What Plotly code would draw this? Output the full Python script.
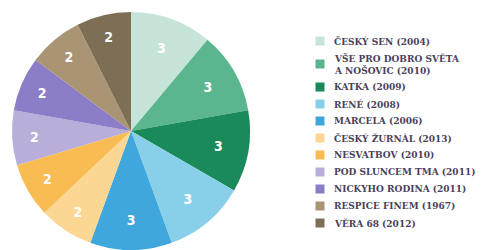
import plotly.graph_objects as go

categories = ["ČESKÝ SEN (2004)", "VŠE PRO DOBRO SVĚTA<br>A NOŠOVIC (2010)", "KATKA (2009)",
              "RENÉ (2008)", "MARCELA (2006)", "ČESKÝ ŽURNÁL (2013)", "NESVATBOV (2010)",
              "POD SLUNCEM TMA (2011)", "NICKYHO RODINA (2011)", "RESPICE FINEM (1967)",
              "VĚRA 68 (2012)"]
values = [3, 3, 3, 3, 3, 2, 2, 2, 2, 2, 2]
colors = ["#c6e4d7", "#5cb68d", "#1b8a5b", "#88cfe9", "#3fa7dc", "#fcd793",
          "#f9bc52", "#b8aed9", "#8b7dc7", "#a99474", "#7d6f56"]

W, H = 482, 250

fig = go.Figure()
fig.add_trace(go.Pie(
    labels=[c.replace("<br>", " ") for c in categories], values=values,
    marker=dict(colors=colors, line=dict(width=0)),
    sort=False, direction="clockwise", rotation=0,
    textinfo="value", textposition="inside", insidetextorientation="horizontal",
    textfont=dict(family="DejaVu Sans Condensed", size=14, color="white", weight="bold"),
    domain=dict(x=[12 / W, 250 / W], y=[0, 238 / H]),
    showlegend=False, hoverinfo="label+value",
))

# manual legend layout (pixel coordinates)
y0, pitch, extra = 41, 17, 12
ys = []
y = y0
for i, c in enumerate(categories):
    n = c.count("<br>") + 1
    center = y + (n - 1) * extra / 2
    ys.append(center)
    y = center + (n - 1) * extra / 2 + pitch

fig.add_trace(go.Scatter(
    x=[320] * len(categories), y=ys, mode="markers",
    marker=dict(symbol="square", size=9, color=colors, line=dict(width=0)),
    showlegend=False, hoverinfo="skip", xaxis="x", yaxis="y",
))
for c, yy in zip(categories, ys):
    fig.add_annotation(x=332, y=yy, xref="x", yref="y", text=c, showarrow=False,
                       xanchor="left", yanchor="middle", align="left",
                       font=dict(family="DejaVu Serif", size=9, color="#4b3f5a", weight="bold"))

fig.update_layout(
    width=W, height=H, margin=dict(l=0, r=0, t=0, b=0),
    paper_bgcolor="white", plot_bgcolor="rgba(0,0,0,0)",
    xaxis=dict(range=[0, W], visible=False, fixedrange=True, domain=[0, 1]),
    yaxis=dict(range=[H, 0], visible=False, fixedrange=True, domain=[0, 1]),
)
fig.write_html("out.html", config={"displayModeBar": False},
               post_script="document.body.style.margin='0';")
